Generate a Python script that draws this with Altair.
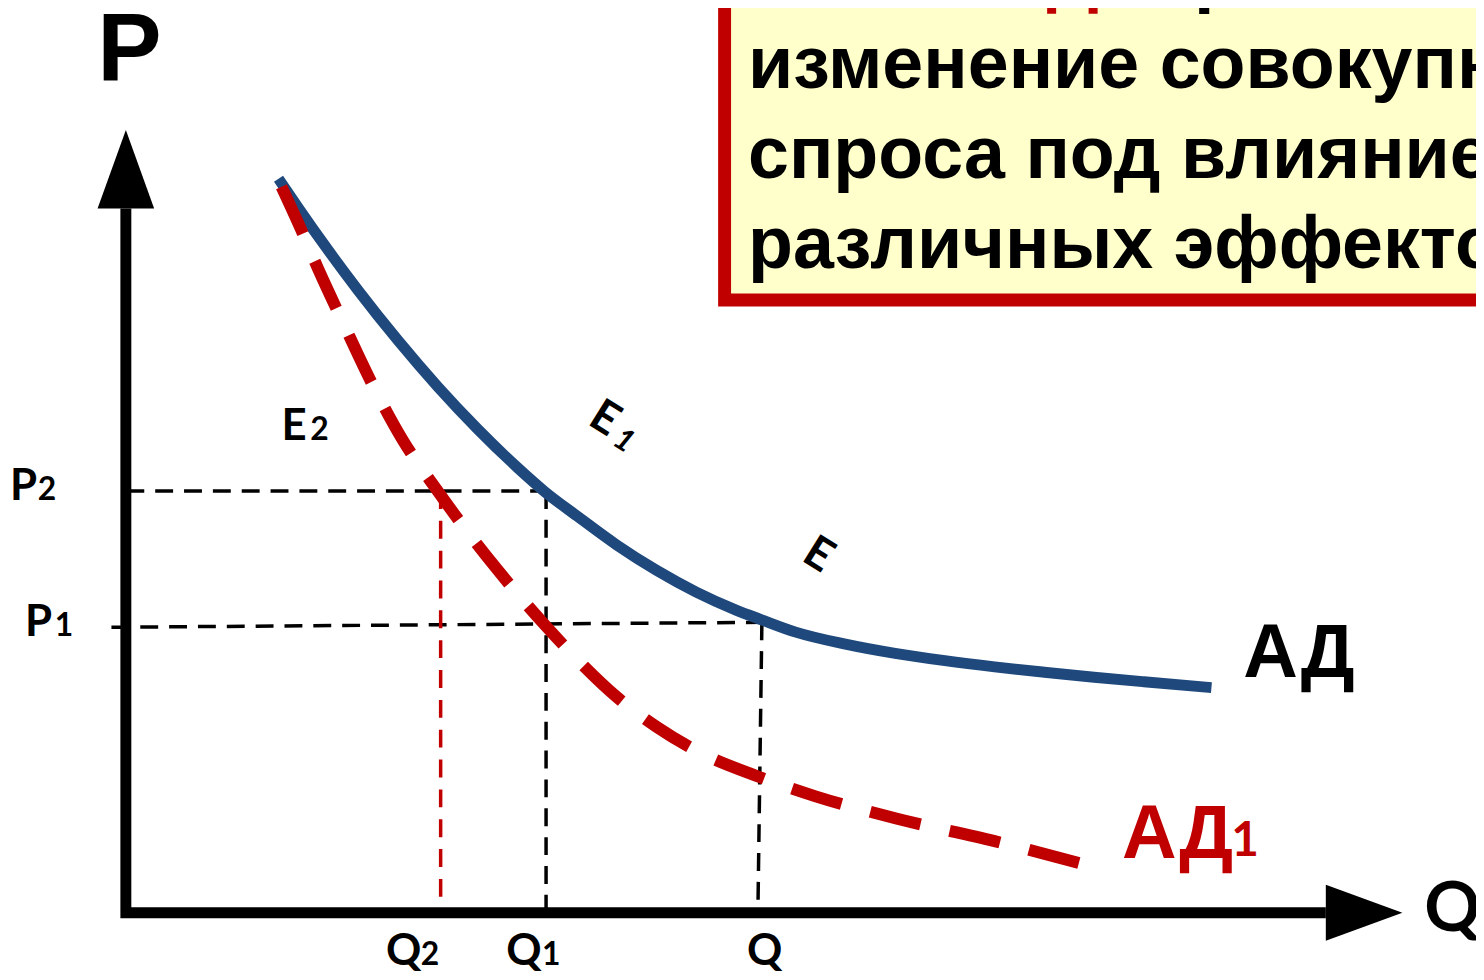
import altair as alt
import pandas as pd

# ---------------- data (Q = quantity, P = price, chart units) ----------------
# AD curve (solid blue)
ad_q = [15.3, 17.3, 20.3, 23.3, 27.3, 31.3, 35.3, 39.3, 42.1, 45.3, 49.3, 53.3,
        57.3, 61.3, 63.8, 67.3, 72.3, 77.3, 82.3, 87.3, 92.3, 97.3, 102.3, 109.1]
ad_p = [73.8, 70.85, 66.6, 62.58, 57.55, 52.9, 48.65, 44.78, 42.31, 39.9, 36.98, 34.43,
        32.24, 30.43, 29.48, 28.21, 27.0, 26.07, 25.34, 24.72, 24.18, 23.68, 23.22, 22.63]
# AD1 curve (dashed red)
ad1_q = [15.6, 17.3, 19.3, 21.8, 24.8, 27.8, 31.3, 34.3, 37.3, 42.2, 45.3, 49.3,
         53.3, 57.3, 63.5, 69.3, 77.3, 87.3, 97.6]
ad1_p = [73.0, 69.3, 64.7, 59.3, 53.0, 47.5, 42.4, 38.3, 34.5, 28.8, 25.5, 21.7,
         18.7, 16.3, 13.7, 11.7, 9.5, 7.2, 4.5]

# black dashed guide segments: (q_start, p_start, q_end, p_end)
guide_names = ["P2", "Q1", "P1", "Q"]
guide_q0 = [0.0, 42.2, -1.5, 63.9]
guide_p0 = [42.4, 42.4, 28.7, 29.2]
guide_q1 = [42.1, 42.2, 63.9, 63.5]
guide_p1 = [42.4, 0.2, 29.2, 0.2]
# red thin dashed guide (Q2)
red_guide_q = [31.6, 31.6]
red_guide_p = [42.4, 0.2]

# axes (one polyline: top of P axis -> origin -> end of Q axis)
axis_q = [-0.05, -0.05, 120.6]
axis_p = [70.8, 0.0, 0.0]
# arrow heads
arrow_q = [-0.05, 124.45]
arrow_p = [74.75, 0.0]

# yellow title box (q, q2, p, p2)
box_q = [60.15, 140.0]
box_p = [61.6, 95.0]
box_lines = ["изменение совокупного", "спроса под влиянием", "различных эффектов"]
box_line_p = [82.9, 73.9, 64.8]
box_q_left = 62.5

# domain of the whole canvas
x_domain = [-11.9, 135.7]
y_domain = [-6.5, 90.7]

RED = "#C00000"
BLUE = "#1F497D"
ARIAL = "Liberation Sans, Arial, sans-serif"
CALIBRI = "Lato, Carlito, Calibri, sans-serif"

xs = alt.Scale(domain=x_domain, nice=False, zero=False)
ys = alt.Scale(domain=y_domain, nice=False, zero=False)


def enc_xy():
    return dict(x=alt.X("q:Q", scale=xs, axis=None),
                y=alt.Y("p:Q", scale=ys, axis=None))


def line_layer(qs, ps, seg=None, **mark):
    df = pd.DataFrame({"q": qs, "p": ps, "i": list(range(len(qs)))})
    df["seg"] = seg if seg is not None else "s"
    return alt.Chart(df).mark_line(**mark).encode(
        order="i:Q", detail="seg:N", **enc_xy())


def text_layer(t, q, p, **mark):
    df = pd.DataFrame({"q": [q], "p": [p], "t": [t]})
    return alt.Chart(df).mark_text(**mark).encode(text="t:N", **enc_xy())


layers = []

# title box
box_df = pd.DataFrame({"q": [box_q[0]], "q2": [box_q[1]],
                       "p": [box_p[0]], "p2": [box_p[1]]})
layers.append(alt.Chart(box_df).mark_rect(fill="#FFFFCC", stroke=RED, strokeWidth=13)
              .encode(x=alt.X("q:Q", scale=xs, axis=None), x2="q2",
                      y=alt.Y("p:Q", scale=ys, axis=None), y2="p2"))

# box text
for line, pp in zip(box_lines, box_line_p):
    layers.append(text_layer(line, box_q_left, pp, font=ARIAL, fontSize=74,
                             fontWeight="bold", align="left", baseline="alphabetic",
                             color="black"))
# first line (mostly cut off by the top edge)
layers.append(text_layer("Наклон", 85.8, 91.9, font=ARIAL, fontSize=74, fontWeight="bold",
                         align="right", baseline="alphabetic", color="black"))
layers.append(text_layer("АД", 86.9, 91.9, font=ARIAL, fontSize=74, fontWeight="bold",
                         align="left", baseline="alphabetic", color=RED))
layers.append(text_layer("отражает", 99.4, 91.9, font=ARIAL, fontSize=74, fontWeight="bold",
                         align="left", baseline="alphabetic", color="black"))

# guides
gq, gp, gs = [], [], []
for n, a, b, c, d in zip(guide_names, guide_q0, guide_p0, guide_q1, guide_p1):
    gq += [a, c]
    gp += [b, d]
    gs += [n, n]
gdf = pd.DataFrame({"q": gq, "p": gp, "seg": gs, "i": [0, 1] * len(guide_names)})
layers.append(alt.Chart(gdf).mark_line(color="black", strokeWidth=3.5, strokeDash=[18, 11],
                                       strokeCap="butt")
              .encode(order="i:Q", detail="seg:N", **enc_xy()))
layers.append(line_layer(red_guide_q, red_guide_p, color=RED, strokeWidth=3.5,
                         strokeDash=[18, 12], strokeCap="butt"))

# curves
layers.append(line_layer(ad_q, ad_p, color=BLUE, strokeWidth=11, interpolate="monotone",
                         strokeCap="butt"))
layers.append(line_layer(ad1_q, ad1_p, color=RED, strokeWidth=12, interpolate="monotone",
                         strokeDash=[52, 30], strokeCap="butt"))

# axes
layers.append(line_layer(axis_q, axis_p, color="black", strokeWidth=11, strokeJoin="miter",
                         strokeCap="butt"))
layers.append(alt.Chart(pd.DataFrame({"q": [arrow_q[0]], "p": [arrow_p[0]]}))
              .mark_point(shape="M-0.72,1L0,-1L0.72,1Z", size=6241, filled=True,
                          color="black", opacity=1, strokeWidth=0)
              .encode(**enc_xy()))
layers.append(alt.Chart(pd.DataFrame({"q": [arrow_q[1]], "p": [arrow_p[1]]}))
              .mark_point(shape="M-1,-0.73L1,0L-1,0.73Z", size=5929, filled=True,
                          color="black", opacity=1, strokeWidth=0)
              .encode(**enc_xy()))

# axis titles
layers.append(text_layer("P", 0.3, 83.7, font=ARIAL, fontSize=97, fontWeight="bold",
                         align="center", baseline="alphabetic", color="black"))
layers.append(text_layer("Q", 130.5, -1.8, font=CALIBRI, fontSize=70, fontWeight="bold",
                         align="left", baseline="alphabetic", color="black"))

# small labels: main letter + subscript
main_labels = ["P", "P", "Q", "Q", "Q", "E"]
main_q = [-11.7, -10.2, 26.1, 38.2, 62.4, 15.6]
main_p = [41.5, 27.8, -5.3, -5.3, -5.3, 47.5]
sub_labels = ["2", "1", "2", "1", "", "2"]
sub_q = [-8.9, -7.2, 29.6, 41.8, 0, 18.5]
for m, mq, mp, s, sq in zip(main_labels, main_q, main_p, sub_labels, sub_q):
    layers.append(text_layer(m, mq, mp, font=CALIBRI, fontSize=44, fontWeight="bold",
                             align="left", baseline="alphabetic", color="black"))
    if s:
        layers.append(text_layer(s, sq, mp, font=CALIBRI, fontSize=32, fontWeight="bold",
                                 align="left", baseline="alphabetic", color="black"))

# rotated equilibrium labels
layers.append(text_layer("E", 48.1, 49.7, font=CALIBRI, fontSize=45, fontWeight="bold",
                         align="center", baseline="middle", angle=32, color="black"))
layers.append(text_layer("1", 50.0, 47.4, font=CALIBRI, fontSize=31, fontWeight="bold",
                         fontStyle="italic", align="center", baseline="middle", angle=32,
                         color="black"))
layers.append(text_layer("E", 69.6, 36.0, font=CALIBRI, fontSize=45, fontWeight="bold",
                         align="center", baseline="middle", angle=32, color="black"))

# curve names
layers.append(text_layer("АД", 112.3, 23.7, font=ARIAL, fontSize=76, fontWeight="bold",
                         align="left", baseline="alphabetic", color="black"))
layers.append(text_layer("АД", 100.1, 5.5, font=ARIAL, fontSize=76, fontWeight="bold",
                         align="left", baseline="alphabetic", color=RED))
layers.append(text_layer("1", 111.1, 5.7, font=CALIBRI, fontSize=48, fontWeight="bold",
                         align="left", baseline="alphabetic", color=RED))

chart = (alt.layer(*layers)
         .properties(width=1476, height=972, padding=0,
                     autosize=alt.AutoSizeParams(type="none"), background="white")
         .configure_view(stroke=None))

chart.save("out.html", embed_options={"renderer": "svg", "actions": False})
